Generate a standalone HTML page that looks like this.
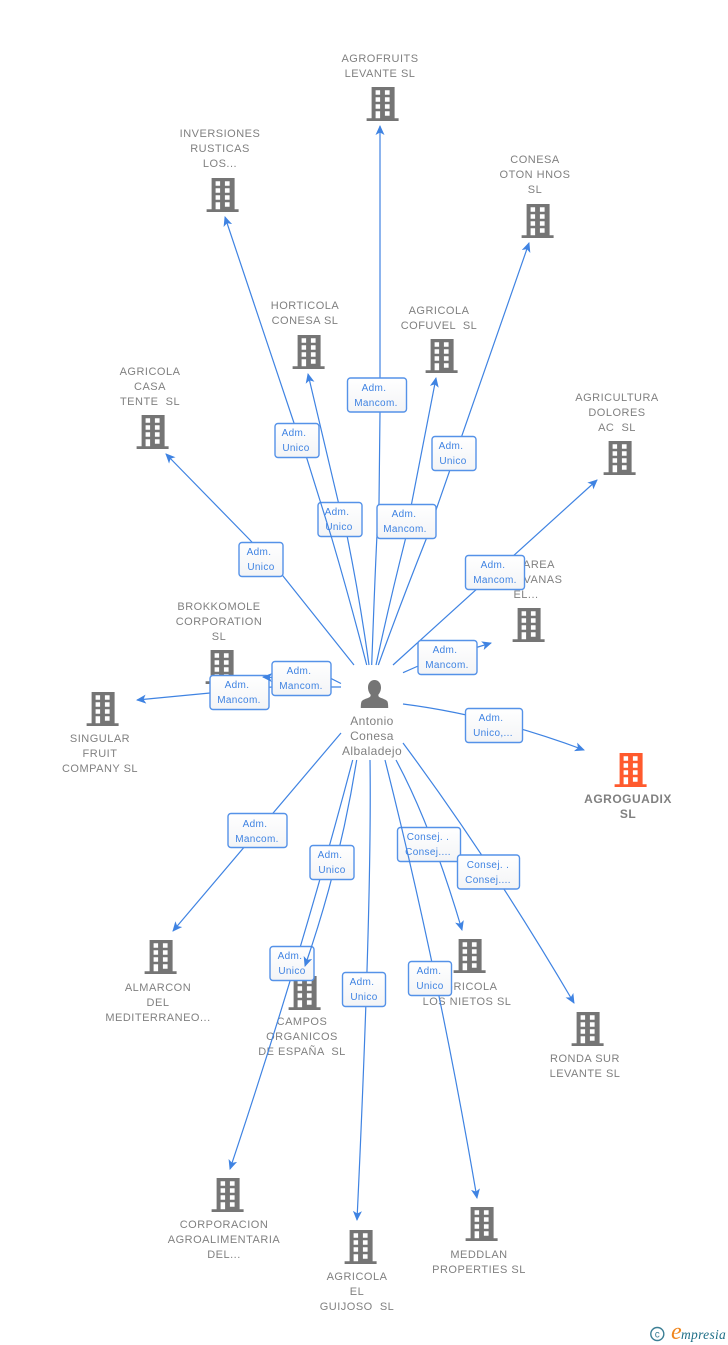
<!DOCTYPE html>
<html><head><meta charset="utf-8"><style>
html,body{margin:0;padding:0;background:#fff}
svg{display:block}
text{font-family:"Liberation Sans",sans-serif;white-space:pre}
.n text,.n{font-size:11px;fill:#808080;text-anchor:middle;letter-spacing:.5px}
.e path{fill:none;stroke:#3f83e2;stroke-width:1.2;marker-end:url(#a)}
.e rect{fill:url(#g);stroke:#5592e8;stroke-width:1.4}
.e text{font-size:10px;fill:#3f83e2;text-anchor:middle;letter-spacing:.35px}
</style></head><body>
<svg width="728" height="1345" viewBox="0 0 728 1345" xmlns="http://www.w3.org/2000/svg">
<defs>
<linearGradient id="g" x1="0" y1="0" x2="0" y2="1"><stop offset="0" stop-color="#fff"/><stop offset="1" stop-color="#f3f4f6"/></linearGradient>
<marker id="a" markerUnits="userSpaceOnUse" markerWidth="12" markerHeight="10" refX="9" refY="4.5" orient="auto"><path d="M0,0 L10,4.5 L0,9 L2.5,4.5 z" style="fill:#3f83e2;stroke:none;marker-end:none"/></marker>
<g id="b">
<path fill-rule="evenodd" d="M5,0H28V31.300H32V34H0V31.300H5ZM9,3.300v4.500h4.500v-4.500ZM18.300,3.300v4.500h4.700v-4.500ZM9,10.300v4.500h4.500v-4.500ZM18.300,10.300v4.500h4.700v-4.500ZM9,17.300v4.500h4.500v-4.500ZM18.300,17.300v4.500h4.700v-4.500ZM9,24.300v7h4.500v-7ZM18.300,24.300v4.500h4.700v-4.500Z"/>
</g>
</defs>

<!-- nodes -->
<g fill="#757575" transform="translate(.6,0)">
<use href="#b" x="366" y="87"/><use href="#b" x="206" y="178"/><use href="#b" x="521" y="204"/>
<use href="#b" x="292" y="335"/><use href="#b" x="425" y="339"/><use href="#b" x="136" y="415"/>
<use href="#b" x="603" y="441"/><use href="#b" x="512" y="608"/><use href="#b" x="205" y="650"/>
<use href="#b" x="86" y="692"/><use href="#b" x="144" y="940"/><use href="#b" x="288" y="976"/>
<use href="#b" x="453" y="939"/><use href="#b" x="571" y="1012"/><use href="#b" x="211" y="1178"/>
<use href="#b" x="344" y="1230"/><use href="#b" x="465" y="1207"/>
<use href="#b" x="614" y="753" fill="#ff5a2d"/>
</g>
<g class="n">
<text x="380" y="62">AGROFRUITS</text><text x="380" y="77">LEVANTE SL</text>
<text x="220" y="137">INVERSIONES</text><text x="220" y="152">RUSTICAS</text><text x="220" y="167">LOS...</text>
<text x="535" y="163">CONESA</text><text x="535" y="178">OTON HNOS</text><text x="535" y="193">SL</text>
<text x="305" y="309">HORTICOLA</text><text x="305" y="324">CONESA SL</text>
<text x="439" y="314">AGRICOLA</text><text x="439" y="329">COFUVEL  SL</text>
<text x="150" y="375">AGRICOLA</text><text x="150" y="390">CASA</text><text x="150" y="405">TENTE  SL</text>
<text x="617" y="401">AGRICULTURA</text><text x="617" y="416">DOLORES</text><text x="617" y="431">AC  SL</text>
<text x="539" y="568">AREA</text><text x="543" y="583">VANAS</text><text x="526" y="598">EL...</text>
<text x="219" y="610">BROKKOMOLE</text><text x="219" y="625">CORPORATION</text><text x="219" y="640">SL</text>
<text x="100" y="742">SINGULAR</text><text x="100" y="757">FRUIT</text><text x="100" y="772">COMPANY SL</text>
<text x="158" y="991">ALMARCON</text><text x="158" y="1006">DEL</text><text x="158" y="1021">MEDITERRANEO...</text>
<text x="302" y="1025">CAMPOS</text><text x="302" y="1040">ORGANICOS</text><text x="302" y="1055">DE ESPAÑA  SL</text>
<text x="467" y="990">AGRICOLA</text><text x="467" y="1005">LOS NIETOS SL</text>
<text x="585" y="1062">RONDA SUR</text><text x="585" y="1077">LEVANTE SL</text>
<text x="224" y="1228">CORPORACION</text><text x="224" y="1243">AGROALIMENTARIA</text><text x="224" y="1258">DEL...</text>
<text x="357" y="1280">AGRICOLA</text><text x="357" y="1295">EL</text><text x="357" y="1310">GUIJOSO  SL</text>
<text x="479" y="1258">MEDDLAN</text><text x="479" y="1273">PROPERTIES SL</text>
<text x="628" y="803" style="font-weight:bold;font-size:12px">AGROGUADIX</text><text x="628" y="818" style="font-weight:bold;font-size:12px">SL</text>
</g>

<!-- center person -->
<path fill="#757575" d="M374.500,680c3.600,0 6.500,3 6.500,7.500c0,3 -1.200,5.700 -2.700,7.200c0,1.600 .6,2.300 2,2.900c3,1.200 6,2.200 7,3.700c.6,1 .9,3.200 .9,6.700h-27.400c0,-3.500 .3,-5.700 .9,-6.700c1,-1.500 4,-2.500 7,-3.700c1.400,-.6 2,-1.300 2,-2.900c-1.500,-1.500 -2.700,-4.200 -2.700,-7.200c0,-4.500 2.900,-7.500 6.500,-7.500z"/>
<g style="font-size:12px;fill:#808080;text-anchor:middle;letter-spacing:.4px">
<text x="372" y="725">Antonio</text><text x="372" y="740">Conesa</text><text x="372" y="755">Albaladejo</text>
</g>

<!-- edges -->
<g class="e">
<path d="M371.700,665Q377,520 379,503L380,412L380,126"/>
<rect x="347.500" y="378" width="59" height="34" rx="3"/><text x="374" y="391">Adm.</text><text x="376" y="406">Mancom.</text>

<path d="M369,665Q360,600 347.300,537L338.300,502L308,374"/>
<rect x="318" y="502.500" width="44" height="34" rx="3"/><text x="337" y="515">Adm.</text><text x="339" y="530">Unico</text>

<path d="M366.700,665Q350,600 331.700,538L306.700,458L294,423L225,217"/>
<rect x="275" y="423.500" width="44" height="34" rx="3"/><text x="294" y="436">Adm.</text><text x="296" y="451">Unico</text>

<path d="M378.300,665Q400,605 426.600,538L436,510L529,243"/>
<rect x="432" y="436.500" width="44" height="34" rx="3"/><text x="451" y="449">Adm.</text><text x="453" y="464">Unico</text>

<path d="M376,665Q390,600 405.700,538L411.700,503L436,378"/>
<rect x="377" y="504.500" width="59" height="34" rx="3"/><text x="404" y="517">Adm.</text><text x="405" y="532">Mancom.</text>

<path d="M354,665L283,576L250,540L166,454"/>
<rect x="239" y="542.500" width="44" height="34" rx="3"/><text x="259" y="555">Adm.</text><text x="261" y="570">Unico</text>

<path d="M393,665L597,480"/>
<rect x="465.500" y="555.500" width="59" height="34" rx="3"/><text x="493" y="568">Adm.</text><text x="495" y="583">Mancom.</text>

<path d="M403,672.700L417,666.500L478,647L491,643"/>
<rect x="418" y="640.500" width="59" height="34" rx="3"/><text x="445" y="653">Adm.</text><text x="447" y="668">Mancom.</text>

<path d="M341,687L272,687L210,693L137,700"/>
<rect x="210" y="675.500" width="59" height="34" rx="3"/><text x="237" y="688">Adm.</text><text x="239" y="703">Mancom.</text>

<path d="M341,683.500L331,678.500L272,677.500L263,677"/>
<rect x="272" y="661.500" width="59" height="34" rx="3"/><text x="299" y="674">Adm.</text><text x="301" y="689">Mancom.</text>

<path d="M403,704Q490,715 584,750"/>
<rect x="465.500" y="708.500" width="57" height="34" rx="3"/><text x="491" y="721">Adm.</text><text x="493" y="736">Unico,...</text>

<path d="M341,733L173,931"/>
<rect x="228" y="813.500" width="59" height="34" rx="3"/><text x="255" y="827">Adm.</text><text x="257" y="842">Mancom.</text>

<path d="M352.700,760Q300,960 230,1169"/>
<rect x="270" y="946.500" width="44" height="34" rx="3"/><text x="290" y="959">Adm.</text><text x="292" y="974">Unico</text>

<path d="M356.700,760Q340,865 305,966"/>
<rect x="310" y="845.500" width="44" height="34" rx="3"/><text x="330" y="858">Adm.</text><text x="332" y="873">Unico</text>

<path d="M370,760Q372,900 357,1220"/>
<rect x="342.500" y="972.500" width="43" height="34" rx="3"/><text x="362" y="985">Adm.</text><text x="364" y="1000">Unico</text>

<path d="M396,760Q431,825 462,930"/>
<rect x="397.500" y="827.500" width="63" height="34" rx="3"/><text x="428" y="840">Consej. .</text><text x="428" y="855">Consej....</text>

<path d="M385,760Q438,970 477,1198"/>
<rect x="408.500" y="961.500" width="43" height="34" rx="3"/><text x="429" y="974">Adm.</text><text x="430" y="989">Unico</text>

<path d="M403,743Q490,860 574,1003"/>
<rect x="457.500" y="855" width="62" height="34" rx="3"/><text x="488" y="868">Consej. .</text><text x="488" y="883">Consej....</text>
</g>

<!-- logo -->
<circle cx="657.300" cy="1334" r="6.500" fill="none" stroke="#3c7f95" stroke-width="1.400"/>
<text x="657.300" y="1337.500" style="font-size:10px;fill:#3c7f95;text-anchor:middle">c</text>
<text x="671" y="1339" style="font-family:'Liberation Serif',serif;font-style:italic;font-size:24px;fill:#f0861e">e</text>
<text x="681" y="1339" style="font-family:'Liberation Serif',serif;font-style:italic;font-size:13.500px;fill:#1f6f87;letter-spacing:.3px">mpresia</text>
</svg>
</body></html>
